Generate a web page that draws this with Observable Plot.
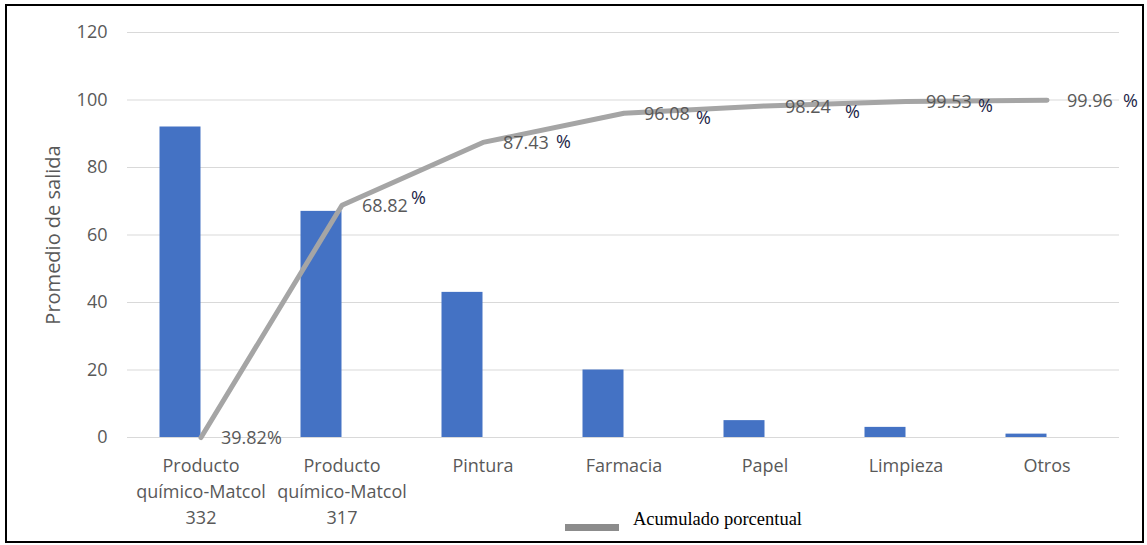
<!DOCTYPE html>
<html>
<head>
<meta charset="utf-8">
<script src="https://cdn.jsdelivr.net/npm/d3@7"></script>
<script src="https://cdn.jsdelivr.net/npm/@observablehq/plot@0.6"></script>
<style>
  body { margin: 0; background: #fff; }
  #wrap { position: relative; width: 1147px; height: 545px; overflow: hidden; background: #fff; }
  #chart { position: absolute; left: 0; top: 0; }
  #frame { position: absolute; left: 5px; top: 4px; width: 1139px; height: 539px; border: 2px solid #000; box-sizing: border-box; pointer-events: none; }
  #swatch { position: absolute; left: 565px; top: 524px; width: 54px; height: 7px; background: #8c8c8c; }
  #legtext { position: absolute; left: 633px; top: 510px; font-family: "Liberation Serif", "Times New Roman", serif; font-size: 18.5px; line-height: 19px; color: #000; white-space: nowrap; }
</style>
</head>
<body>
<div id="wrap">
  <div id="chart"></div>
  <div id="frame"></div>
  <div id="swatch"></div>
  <div id="legtext">Acumulado porcentual</div>
</div>
<script>
// ---- data ----
const categories = ["Producto\nquímico-Matcol\n332", "Producto\nquímico-Matcol\n317", "Pintura", "Farmacia", "Papel", "Limpieza", "Otros"];
const salida = [92, 67, 43, 20, 5, 3, 1];
const acumuladoLinea = [0, 68.82, 87.43, 96.08, 98.24, 99.53, 99.96];
const acumuladoEtiquetas = ["39.82", "68.82", "87.43", "96.08", "98.24", "99.53", "99.96"];
const yTicks = [0, 20, 40, 60, 80, 100, 120];
const yTitle = "Promedio de salida";

// ---- layout / styling (not data) ----
const pctGap = [0, 3, 7, 6, 14, 6, 10];
const pctDy = [0, -8, -1, 4, 5, 4, 0];

const rows = categories.map((c, i) => ({cat: c, val: salida[i], cum: acumuladoLinea[i], lab: acumuladoEtiquetas[i], i}));

const gray = "#595959";
const pctMarks = rows.map((r, i) => Plot.text([r], {
  x: "cat", y: "cum", text: () => "%",
  textAnchor: "start", dx: 20 + 46 + pctGap[i], dy: 1 + pctDy[i],
  fill: i === 0 ? gray : "#1c2547", fontSize: 18
}));

const chart = Plot.plot({
  width: 1147,
  height: 545,
  marginLeft: 127,
  marginRight: 28,
  marginTop: 32,
  marginBottom: 108,
  style: {fontFamily: "'Open Sans', sans-serif", fontSize: "18px", color: gray, background: "transparent", overflow: "visible"},
  x: {type: "band", domain: categories, paddingInner: 0.71, paddingOuter: 0.355, axis: null},
  y: {domain: [0, 120], ticks: yTicks, tickSize: 0, tickPadding: 20, label: null, tickFormat: d => String(d)},
  marks: [
    Plot.ruleY(yTicks, {stroke: "#d9d9d9", strokeWidth: 1}),
    Plot.barY(rows, {x: "cat", y: "val", fill: "#4472C4", dx: -20.5}),
    Plot.line(rows, {x: "cat", y: "cum", stroke: "#a5a5a5", strokeWidth: 5, strokeLinecap: "round", strokeLinejoin: "round"}),
    Plot.text(rows, {x: "cat", y: "cum", text: "lab", textAnchor: "start", dx: 20, dy: 1, fill: gray, fontSize: 18}),
    ...pctMarks,
    Plot.text(rows, {x: "cat", text: "cat", frameAnchor: "bottom", lineAnchor: "top", lineHeight: 1.45, dy: 16, fill: gray, fontSize: 18}),
    Plot.text([yTitle], {frameAnchor: "left", textAnchor: "middle", text: d => d, rotate: -90, dx: -74, fill: gray, fontSize: 20})
  ]
});
document.getElementById("chart").appendChild(chart);
</script>
</body>
</html>
